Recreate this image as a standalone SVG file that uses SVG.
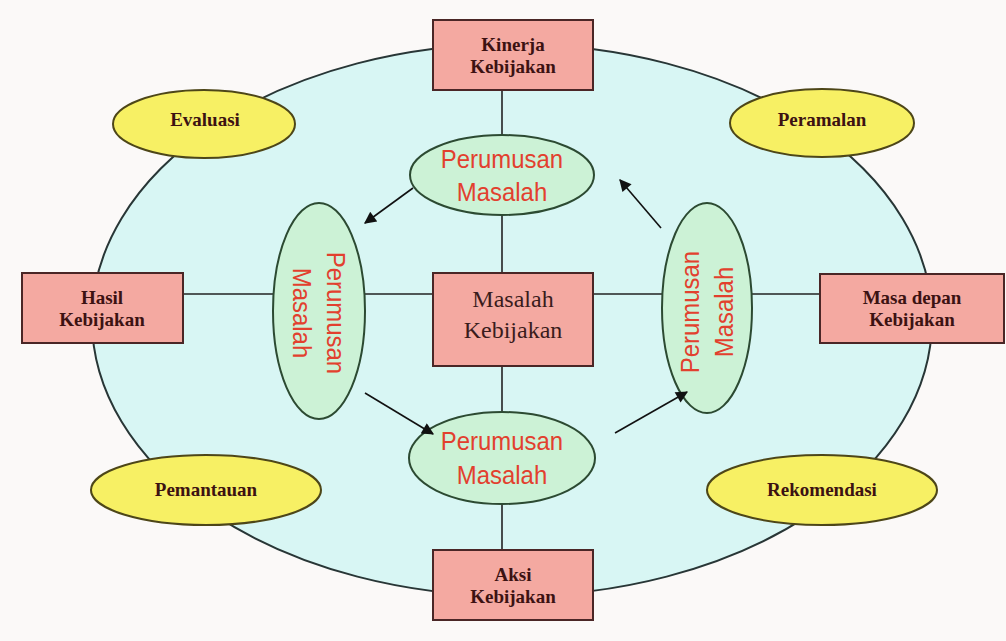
<svg xmlns="http://www.w3.org/2000/svg" width="1006" height="641" viewBox="0 0 1006 641">
<defs>
<marker id="ah" viewBox="0 0 10 10" refX="9" refY="5" markerWidth="15" markerHeight="12" orient="auto" markerUnits="userSpaceOnUse">
<path d="M0,0 L10,5 L0,10 z" fill="#111"/>
</marker>
<style>
.box{fill:#f4a9a1;stroke:#4a2626;stroke-width:2}
.lbl{font-family:"Liberation Serif",serif;font-weight:bold;font-size:19px;fill:#3c1212;text-anchor:middle}
.yel{fill:#f7f064;stroke:#4d4618;stroke-width:2}
.grn{fill:#ccf2d6;stroke:#2c4a32;stroke-width:2}
.red{font-family:"Liberation Sans",Arial,sans-serif;font-size:26px;fill:#e2402e;text-anchor:middle}
.ln{stroke:#222;stroke-width:1.6;fill:none}
.ar{stroke:#111;stroke-width:1.6;fill:none;marker-end:url(#ah)}
</style>
</defs>
<rect x="0" y="0" width="1006" height="641" fill="#fbf9f8"/>
<g id="outer">
<ellipse cx="512" cy="320" rx="420" ry="276" fill="#d8f6f4" stroke="#283636" stroke-width="2"/>
</g>
<g id="connectors">
<line class="ln" x1="183" y1="294" x2="820" y2="294"/>
<line class="ln" x1="502" y1="90" x2="502" y2="550"/>
</g>
<g id="evaluasi"><ellipse class="yel" cx="204" cy="124" rx="91" ry="34"/><text class="lbl" x="205" y="126">Evaluasi</text></g>
<g id="peramalan"><ellipse class="yel" cx="822" cy="123" rx="92" ry="34"/><text class="lbl" x="822" y="126">Peramalan</text></g>
<g id="pemantauan"><ellipse class="yel" cx="206" cy="490" rx="115" ry="35"/><text class="lbl" x="206" y="496">Pemantauan</text></g>
<g id="rekomendasi"><ellipse class="yel" cx="822" cy="490" rx="115" ry="35"/><text class="lbl" x="822" y="496">Rekomendasi</text></g>
<g id="kinerja"><rect class="box" x="433" y="20" width="160" height="70"/><text class="lbl" x="513" y="51">Kinerja</text><text class="lbl" x="513" y="73">Kebijakan</text></g>
<g id="hasil"><rect class="box" x="22" y="273" width="161" height="70"/><text class="lbl" x="102" y="304">Hasil</text><text class="lbl" x="102" y="326">Kebijakan</text></g>
<g id="masadepan"><rect class="box" x="820" y="274" width="184" height="69"/><text class="lbl" x="912" y="304">Masa depan</text><text class="lbl" x="912" y="326">Kebijakan</text></g>
<g id="aksi"><rect class="box" x="433" y="550" width="160" height="70"/><text class="lbl" x="513" y="581">Aksi</text><text class="lbl" x="513" y="603">Kebijakan</text></g>
<g id="masalah"><rect class="box" x="433" y="273" width="160" height="93"/><text x="513" y="307" font-family="Liberation Serif,serif" font-size="24" fill="#3a1c1c" text-anchor="middle">Masalah</text><text x="513" y="338" font-family="Liberation Serif,serif" font-size="24" fill="#3a1c1c" text-anchor="middle">Kebijakan</text></g>
<g id="pm-top"><ellipse class="grn" cx="502" cy="175" rx="92" ry="40"/><g transform="translate(502,0) scale(0.92,1)"><text class="red" x="0" y="168">Perumusan</text><text class="red" x="0" y="201">Masalah</text></g></g>
<g id="pm-bottom"><ellipse class="grn" cx="502" cy="458" rx="93" ry="46"/><g transform="translate(502,0) scale(0.92,1)"><text class="red" x="0" y="450">Perumusan</text><text class="red" x="0" y="484">Masalah</text></g></g>
<g id="pm-left"><ellipse class="grn" cx="319" cy="311" rx="46" ry="108"/><g transform="translate(319,313) rotate(90) scale(0.92,1)"><text class="red" x="0" y="-8">Perumusan</text><text class="red" x="0" y="26">Masalah</text></g></g>
<g id="pm-right"><ellipse class="grn" cx="707" cy="308" rx="45" ry="105"/><g transform="translate(707,312) rotate(-90) scale(0.92,1)"><text class="red" x="0" y="-8">Perumusan</text><text class="red" x="0" y="26">Masalah</text></g></g>
<g id="arrows">
<line class="ar" x1="413" y1="188" x2="365" y2="223"/>
<line class="ar" x1="365" y1="393" x2="433" y2="434"/>
<line class="ar" x1="615" y1="433" x2="687" y2="392"/>
<line class="ar" x1="661" y1="228" x2="620" y2="180"/>
</g>
</svg>
